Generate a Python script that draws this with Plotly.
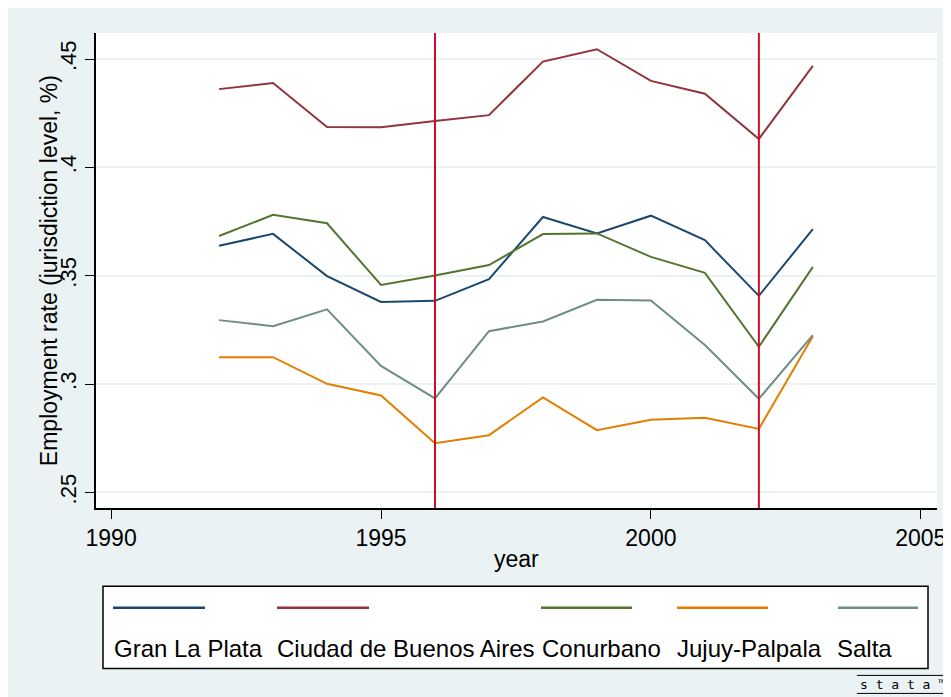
import plotly.graph_objects as go

YEARS = list(range(1992, 2004))

SERIES = [
    "Gran La Plata",
    "Ciudad de Buenos Aires",
    "Conurbano",
    "Jujuy-Palpala",
    "Salta",
]

GRAN_LA_PLATA = [0.3638, 0.3693, 0.3498, 0.3379, 0.3384, 0.3484,
                 0.3771, 0.3695, 0.3777, 0.3664, 0.3407, 0.3715]
CIUDAD_BA = [0.4361, 0.4389, 0.4186, 0.4185, 0.4214, 0.4241,
             0.4488, 0.4545, 0.4399, 0.4340, 0.4131, 0.4468]
CONURBANO = [0.3683, 0.3781, 0.3742, 0.3457, 0.3501, 0.3549,
             0.3692, 0.3695, 0.3587, 0.3513, 0.3172, 0.3541]
JUJUY = [0.3124, 0.3124, 0.3001, 0.2947, 0.2727, 0.2764,
         0.2938, 0.2787, 0.2835, 0.2844, 0.2793, 0.3221]
SALTA = [0.3295, 0.3267, 0.3345, 0.3084, 0.2934, 0.3244,
         0.3289, 0.3389, 0.3386, 0.3180, 0.2932, 0.3226]

XLINES = [1996, 2002]

X_TICKS = [1990, 1995, 2000, 2005]
Y_TICKS = [0.25, 0.30, 0.35, 0.40, 0.45]
Y_TICK_TEXT = [".25", ".3", ".35", ".4", ".45"]

# stata s2color palette
COLORS = ["#1A476F", "#90353B", "#55752F", "#E37E00", "#6E8E84"]
BG = "#EAF2F3"
XLINE_COLOR = "#C8102E"

# page has an 8px body margin, so work in screen pixels and shift
OFF = 8
W, H = 951 - OFF, 697 - OFF
M_L, M_R, M_T = 96 - OFF, W - (937 - OFF), 33 - OFF
M_B = H - (507.7 - OFF)


def px(sx):
    # screen pixel -> paper x
    return (sx - OFF - M_L) / (W - M_L - M_R)


def py(sy):
    # screen pixel -> paper y
    return (H - M_B - (sy - OFF)) / (H - M_T - M_B)


fig = go.Figure()

values = [GRAN_LA_PLATA, CIUDAD_BA, CONURBANO, JUJUY, SALTA]
for name, vals, col in zip(SERIES, values, COLORS):
    fig.add_trace(go.Scatter(
        x=YEARS, y=vals, mode="lines", name=name,
        line=dict(color=col, width=2),
    ))

shapes = []
for xv in XLINES:
    shapes.append(dict(type="line", xref="x", yref="paper",
                       x0=xv, x1=xv, y0=0, y1=1,
                       line=dict(color=XLINE_COLOR, width=2)))

# legend box drawn by hand (stata puts keys above labels)
shapes.append(dict(type="rect", xref="paper", yref="paper",
                   x0=px(103), x1=px(928), y0=py(668), y1=py(586),
                   fillcolor="white", line=dict(color="black", width=1.5)))

LEG_TEXT_X = [115, 278, 543, 678, 838]
LEG_LINE_X = [(113, 205), (277, 369), (541, 632), (677, 768), (838, 918)]

annotations = []
for name, col, tx, (l0, l1) in zip(SERIES, COLORS, LEG_TEXT_X, LEG_LINE_X):
    shapes.append(dict(type="line", xref="paper", yref="paper",
                       x0=px(l0), x1=px(l1), y0=py(607.5), y1=py(607.5),
                       line=dict(color=col, width=2.5)))
    annotations.append(dict(text=name, xref="paper", yref="paper",
                            x=px(tx - 3), y=py(648), xanchor="left",
                            yanchor="middle", showarrow=False,
                            font=dict(size=24, color="black")))

# y title overlapping tick labels, stata style
annotations.append(dict(text="Employment rate (jurisdiction level, %)",
                        xref="paper", yref="paper", x=px(49), y=py(271),
                        xanchor="center", yanchor="middle",
                        textangle=-90, showarrow=False,
                        font=dict(size=23, color="black")))
annotations.append(dict(text="year", xref="paper", yref="paper",
                        x=px(516), y=py(559),
                        xanchor="center", yanchor="middle", showarrow=False,
                        font=dict(size=23, color="black")))

# stata watermark
annotations.append(dict(text="s t a t a \u2122", xref="paper", yref="paper",
                        x=px(903), y=py(684),
                        xanchor="center", yanchor="middle", showarrow=False,
                        font=dict(size=13, color="black",
                                  family="DejaVu Sans Mono")))
for yy in (675, 693):
    shapes.append(dict(type="line", xref="paper", yref="paper",
                       x0=px(857), x1=px(948), y0=py(yy), y1=py(yy),
                       line=dict(color="black", width=1)))

fig.update_layout(
    width=W, height=H,
    margin=dict(l=M_L, r=M_R, t=M_T, b=M_B, autoexpand=False),
    paper_bgcolor=BG,
    plot_bgcolor="white",
    showlegend=False,
    font=dict(family="Liberation Sans, Arial, sans-serif", color="black"),
    shapes=shapes,
    annotations=annotations,
    xaxis=dict(
        range=[1989.72, 2005.30],
        tickvals=X_TICKS,
        ticks="outside", ticklen=9, tickcolor="black",
        showline=True, linecolor="black", linewidth=1.5,
        showgrid=False, zeroline=False, automargin=False,
        tickfont=dict(size=23),
    ),
    yaxis=dict(
        range=[0.2428, 0.462],
        tickvals=Y_TICKS, ticktext=Y_TICK_TEXT,
        tickangle=-90,
        ticks="outside", ticklen=9, tickcolor="black",
        showline=True, linecolor="black", linewidth=1.5,
        showgrid=True, gridcolor=BG, gridwidth=2,
        zeroline=False, automargin=False,
        tickfont=dict(size=22),
    ),
)

fig.write_html("out.html")
